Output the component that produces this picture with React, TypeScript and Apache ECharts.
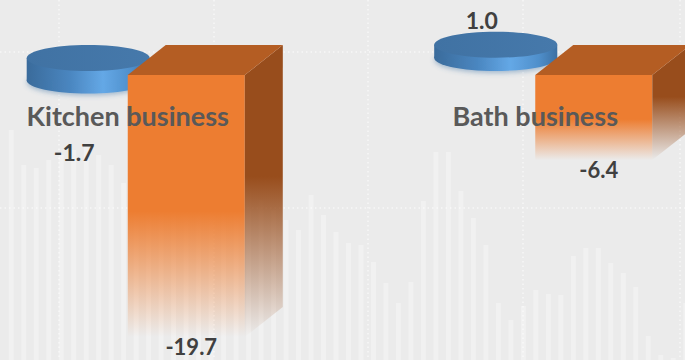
import React, { useEffect, useRef } from "react";
import * as echarts from "echarts";

// ---- data ----
const categories = ["Kitchen business", "Bath business"];
const blueValues = [-1.7, 1.0];
const orangeValues = [-19.7, -6.4];
// decorative faint backdrop columns (heights in px-scale units, 0..360)
const backdropHeights = [
  230, 195, 192, 200, 205, 210, 215, 205, 195, 177,
  180, 170, 160, 175, 185, 165, 150, 160, 170, 175,
  160, 150, 140, 130, 165, 145, 128, 117, 115, 98,
  77, 57, 78, 159, 208, 208, 169, 142, 115, 57,
  40, 54, 70, 66, 65, 104, 112, 112, 97, 87,
  73, 24, 5, 2, 57,
];

const FONT = "Lato, 'Open Sans', sans-serif";

export default function App() {
  const ref = useRef<HTMLDivElement>(null);

  useEffect(() => {
    document.body.style.margin = "0";
    const chart = echarts.init(ref.current as HTMLDivElement, null, { renderer: "svg" });
    const DX = 19;
    const DY = 15;

    const renderBlue = (params: any, api: any) => {
      const idx = api.value(0);
      const val = api.value(1);
      const p0 = api.coord([idx, 0]);
      const p1 = api.coord([idx, val]);
      const band = api.size([1, 0])[0];
      const cx = p0[0] - band * 0.1436;
      const rx = band * 0.151;
      const ry = 13;
      const y0 = p0[1] - 2;
      const y1 = p1[1] - 2;
      const yTop = Math.min(y0, y1);
      const yBot = Math.max(y0, y1);
      const sideGrad = () =>
        new echarts.graphic.LinearGradient(0, 0, 1, 0, [
          { offset: 0, color: "#3a6b9b" },
          { offset: 0.35, color: "#4a86c0" },
          { offset: 0.62, color: "#64a8e6" },
          { offset: 0.85, color: "#4f8fcb" },
          { offset: 1, color: "#3c70a3" },
        ]);
      const labelY = val < 0 ? p1[1] + 69 : p1[1] - 27;
      return {
        type: "group",
        children: [
          {
            type: "ellipse",
            shape: { cx, cy: yBot, rx, ry },
            style: {
              fill: sideGrad(),
              shadowBlur: 5,
              shadowColor: "rgba(70,120,170,0.45)",
              shadowOffsetY: 2,
            },
          },
          {
            type: "rect",
            shape: { x: cx - rx, y: yTop, width: rx * 2, height: yBot - yTop },
            style: { fill: sideGrad() },
          },
          {
            type: "ellipse",
            shape: { cx, cy: yTop, rx, ry },
            style: {
              fill: new echarts.graphic.LinearGradient(0, 0, 1, 0, [
                { offset: 0, color: "#4072a3" },
                { offset: 1, color: "#4679ab" },
              ]),
            },
          },
          {
            type: "text",
            style: {
              text: val.toFixed(1),
              x: cx - 14,
              y: labelY,
              align: "center",
              verticalAlign: "middle",
              fontSize: 23,
              fontWeight: "bold",
              fontFamily: FONT,
              fill: "#404040",
            },
          },
        ],
      };
    };

    const renderOrange = (params: any, api: any) => {
      const idx = api.value(0);
      const val = api.value(1);
      const p0 = api.coord([idx, 0]);
      const p1 = api.coord([idx, val]);
      const band = api.size([1, 0])[0];
      const cx = p0[0] + band * 0.1436;
      const hw = band * 0.1436;
      const yTop = Math.min(p0[1], p1[1]);
      const yBot = Math.max(p0[1], p1[1]);
      const fl = cx - hw - DX;
      const fr = cx + hw - DX;
      const bl = cx - hw + DX;
      const br = cx + hw + DX;
      const labelY = val < 0 ? p1[1] + 24 : p1[1] - 24;
      return {
        type: "group",
        children: [
          {
            type: "rect",
            shape: { x: fl, y: yTop + DY, width: fr - fl, height: yBot - yTop },
            style: {
              fill: new echarts.graphic.LinearGradient(0, 0, 0, 1, [
                { offset: 0, color: "#ed7d31" },
                { offset: 0.52, color: "#ed7d31" },
                { offset: 1, color: "rgba(237,125,49,0)" },
              ]),
            },
          },
          {
            type: "polygon",
            shape: {
              points: [
                [fr, yTop + DY],
                [br, yTop - DY],
                [br, yBot - DY],
                [fr, yBot + DY],
              ],
            },
            style: {
              fill: new echarts.graphic.LinearGradient(0, 0, 0, 1, [
                { offset: 0, color: "#984d1c" },
                { offset: 0.45, color: "#984d1c" },
                { offset: 1, color: "rgba(152,77,28,0)" },
              ]),
            },
          },
          {
            type: "polygon",
            shape: {
              points: [
                [fl, yTop + DY],
                [fr, yTop + DY],
                [br, yTop - DY],
                [bl, yTop - DY],
              ],
            },
            style: { fill: "#b45d23" },
          },
          {
            type: "text",
            style: {
              text: val.toFixed(1),
              x: cx - 14,
              y: labelY,
              align: "center",
              verticalAlign: "middle",
              fontSize: 22,
              fontWeight: "bold",
              fontFamily: FONT,
              fill: "#404040",
            },
          },
          {
            type: "text",
            style: {
              text: categories[idx],
              x: p0[0] - DX,
              y: p0[1] + 55,
              align: "center",
              verticalAlign: "middle",
              fontSize: 27,
              fontWeight: "bold",
              fontFamily: FONT,
              fill: "#595959",
            },
          },
        ],
      };
    };

    const dotted = (x1: number, y1: number, x2: number, y2: number) => ({
      type: "line",
      silent: true,
      z: 1,
      shape: { x1, y1, x2, y2 },
      style: { stroke: "rgba(255,255,255,0.6)", lineWidth: 1.5, lineDash: [1.5, 3] },
    });

    chart.setOption({
      animation: false,
      backgroundColor: "#ebebeb",
      graphic: [
        ...[59, 214, 368, 523, 680].map((x) => dotted(x, 0, x, 360)),
        ...[52, 208].map((y) => dotted(0, y, 685, y)),
      ],
      grid: [
        { left: -57, right: -73, top: 6.8, bottom: 7.4, outerBoundsMode: "none", containLabel: false },
        { left: 5, right: -7, top: 0, bottom: 0, outerBoundsMode: "none", containLabel: false },
      ],
      xAxis: [
        {
          type: "category",
          gridIndex: 0,
          data: categories,
          show: false,
        },
        {
          type: "category",
          gridIndex: 1,
          data: backdropHeights.map((_, i) => String(i)),
          show: false,
        },
      ],
      yAxis: [
        { type: "value", gridIndex: 0, min: -22, max: 4, show: false },
        { type: "value", gridIndex: 1, min: 0, max: 360, show: false },
      ],
      series: [
        {
          type: "bar",
          xAxisIndex: 1,
          yAxisIndex: 1,
          data: backdropHeights,
          barWidth: 5,
          silent: true,
          z: 0,
          itemStyle: { color: "rgba(255,255,255,0.3)" },
        },
        {
          type: "custom",
          name: "Series A",
          xAxisIndex: 0,
          yAxisIndex: 0,
          z: 2,
          renderItem: renderBlue,
          encode: { x: 0, y: 1 },
          data: blueValues.map((v, i) => [i, v]),
        },
        {
          type: "custom",
          name: "Series B",
          xAxisIndex: 0,
          yAxisIndex: 0,
          z: 3,
          renderItem: renderOrange,
          encode: { x: 0, y: 1 },
          data: orangeValues.map((v, i) => [i, v]),
        },
      ],
    });

    return () => {
      chart.dispose();
    };
  }, []);

  return <div ref={ref} style={{ width: 685, height: 360 }} />;
}
